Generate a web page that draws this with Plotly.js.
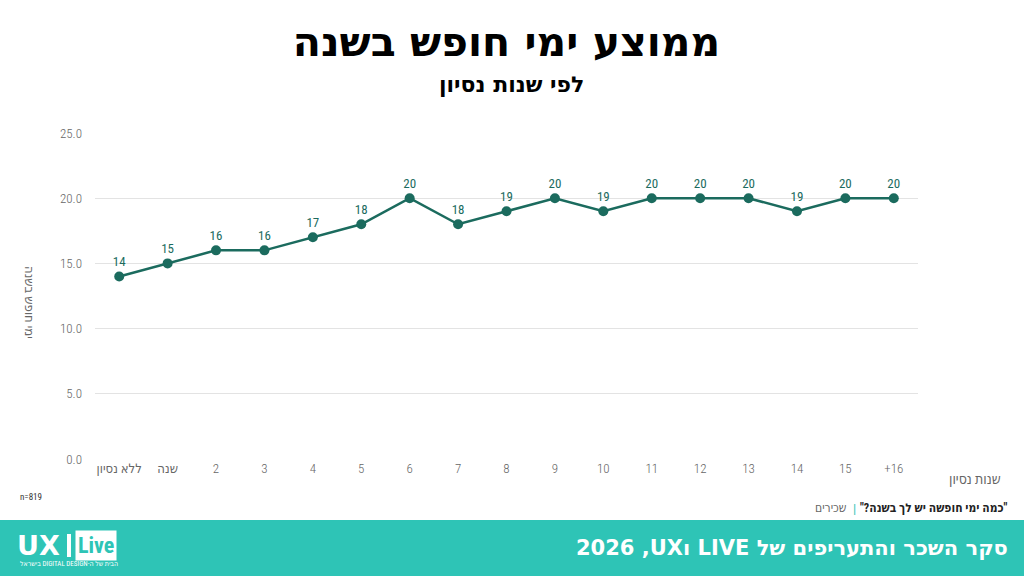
<!DOCTYPE html>
<html>
<head>
<meta charset="utf-8">
<script src="https://cdn.plot.ly/plotly-3.0.1.min.js"></script>
<style>
  html, body { margin: 0; padding: 0; background: #fff; }
  #chart { width: 1024px; height: 576px; }
</style>
</head>
<body>
<div id="chart"></div>
<script>
// data
const categories = ['ללא נסיון', 'שנה', '2', '3', '4', '5', '6', '7', '8', '9', '10', '11', '12', '13', '14', '15', '+16'];
const vacationDays = [14, 15, 16, 16, 17, 18, 20, 18, 19, 20, 19, 20, 20, 20, 19, 20, 20];
const yTicks = [0, 5, 10, 15, 20, 25];

const teal = '#1b6b5e';
const band = '#2ec4b6';
const grayText = '#666666';
const RLM = '\u200F';
const RLE = '\u202B', PDF = '\u202C';

// plot area in pixels, used to place the free texts
const plotL = 95, plotR = 918, plotT = 133, plotB = 459;
const px = x => (x - plotL) / (plotR - plotL);
const py = y => (plotB - y) / (plotB - plotT);

const narrow = 'Roboto Condensed, Liberation Sans Narrow, DejaVu Sans Condensed, sans-serif';
const heavy = 'DejaVu Sans, Liberation Sans, sans-serif';

const trace = {
  x: categories,
  y: vacationDays,
  type: 'scatter',
  mode: 'lines+markers+text',
  line: { color: teal, width: 2.5 },
  marker: { color: teal, size: 10 },
  text: vacationDays.map(String),
  textposition: 'top center',
  textfont: { family: narrow, size: 13, color: teal },
  cliponaxis: false,
  hoverinfo: 'skip'
};

const layout = {
  width: 1024,
  height: 576,
  margin: { l: plotL, r: 1024 - plotR, t: plotT, b: 576 - plotB },
  paper_bgcolor: '#ffffff',
  plot_bgcolor: '#ffffff',
  showlegend: false,
  font: { family: 'Liberation Sans, DejaVu Sans, sans-serif', color: grayText },
  title: {
    text: '<b>ממוצע ימי חופש בשנה</b>',
    font: { family: heavy, size: 41, color: '#000000' },
    x: 0.5, xref: 'paper', xanchor: 'center',
    y: 1 - 42 / 576, yref: 'container', yanchor: 'middle'
  },
  xaxis: {
    type: 'category',
    range: [-0.5, categories.length - 0.5],
    showgrid: false,
    showline: false,
    zeroline: false,
    ticks: '',
    tickfont: { family: narrow, size: 13, color: grayText, weight: 300 },
    fixedrange: true
  },
  yaxis: {
    range: [0, 25],
    tickvals: yTicks,
    tickformat: '.1f',
    showgrid: true,
    gridcolor: '#e3e3e3',
    gridwidth: 1,
    zeroline: false,
    showline: false,
    ticks: '',
    ticklabelstandoff: 12,
    tickfont: { family: narrow, size: 13, color: grayText, weight: 300 },
    fixedrange: true
  },
  shapes: [
    // footer band
    { type: 'rect', xref: 'paper', yref: 'paper', x0: -0.5, x1: 1.5, y0: py(600), y1: py(520),
      fillcolor: band, line: { width: 0 }, layer: 'below' },
    // logo divider
    { type: 'line', xref: 'paper', yref: 'paper', x0: px(69), x1: px(69), y0: py(557), y1: py(534),
      line: { color: '#ffffff', width: 4 } }
  ],
  annotations: [
    { text: '<b>לפי שנות נסיון</b>', xref: 'paper', yref: 'paper', x: px(512), y: py(85),
      showarrow: false, xanchor: 'center', yanchor: 'middle',
      font: { family: heavy, size: 22, color: '#000000' } },
    { text: 'ימי חופש בשנה', xref: 'paper', yref: 'paper', x: px(30), y: py(302),
      showarrow: false, textangle: 90, xanchor: 'center', yanchor: 'middle',
      font: { family: narrow, size: 13, color: grayText, weight: 300 } },
    { text: 'שנות נסיון', xref: 'paper', yref: 'paper', x: px(975), y: py(479),
      showarrow: false, xanchor: 'center', yanchor: 'middle',
      font: { family: narrow, size: 14, color: grayText, weight: 300 } },
    { text: 'n=819', xref: 'paper', yref: 'paper', x: px(18), y: py(497),
      showarrow: false, xanchor: 'left', yanchor: 'middle',
      font: { family: narrow, size: 9, color: '#333333' } },
    // source note, three pieces so the bidi order stays right
    { text: '<b>' + RLM + '"כמה ימי חופשה יש לך בשנה?"' + RLM + '</b>',
      xref: 'paper', yref: 'paper', x: px(1010), y: py(508),
      showarrow: false, xanchor: 'right', yanchor: 'middle',
      font: { family: narrow, size: 12, color: '#222222' } },
    { text: '|', xref: 'paper', yref: 'paper', x: px(854), y: py(508),
      showarrow: false, xanchor: 'center', yanchor: 'middle',
      font: { family: narrow, size: 13, color: band } },
    { text: 'שכירים', xref: 'paper', yref: 'paper', x: px(849), y: py(508),
      showarrow: false, xanchor: 'right', yanchor: 'middle',
      font: { family: narrow, size: 12, color: grayText, weight: 300 } },
    // footer
    { text: '<b>' + RLE + 'סקר השכר והתעריפים של LIVE וUX' + RLM + ', 2026' + PDF + '</b>',
      xref: 'paper', yref: 'paper', x: px(1010), y: py(548),
      showarrow: false, xanchor: 'right', yanchor: 'middle',
      font: { family: heavy, size: 21, color: '#ffffff' } },
    { text: '<b>UX</b>', xref: 'paper', yref: 'paper', x: px(15), y: py(545),
      showarrow: false, xanchor: 'left', yanchor: 'middle',
      font: { family: heavy, size: 27, color: '#ffffff' } },
    { text: '<b>Live</b>', xref: 'paper', yref: 'paper', x: px(75), y: py(545),
      showarrow: false, xanchor: 'left', yanchor: 'middle', bgcolor: '#ffffff', borderpad: 2,
      font: { family: narrow, size: 22, color: band } },
    { text: RLE + 'הבית של ה-DIGITAL DESIGN בישראל' + PDF, xref: 'paper', yref: 'paper', x: px(18), y: py(564),
      showarrow: false, xanchor: 'left', yanchor: 'middle',
      font: { family: narrow, size: 7, color: '#ffffff' } }
  ]
};

Plotly.newPlot('chart', [trace], layout, { displayModeBar: false, staticPlot: true });
</script>
</body>
</html>
